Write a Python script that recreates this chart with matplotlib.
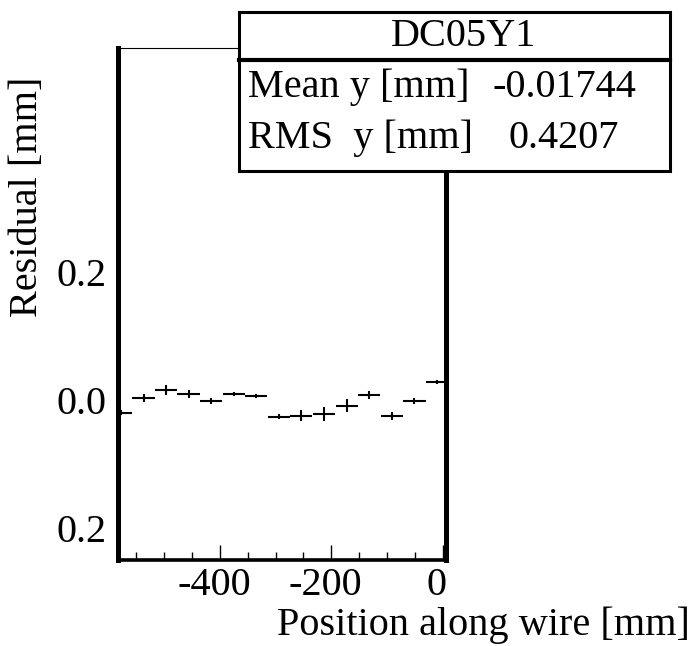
import matplotlib.pyplot as plt
import numpy as np
from matplotlib.patches import Rectangle
from matplotlib.lines import Line2D
from matplotlib.ticker import MultipleLocator
from matplotlib.transforms import ScaledTranslation

plt.rcParams['font.family'] = ['Liberation Serif', 'DejaVu Serif']

# residual profile along the wire
pos      = np.array([-578, -537, -497, -456, -416, -375, -335, -294,
                     -254, -213, -172, -132, -91, -51, -10])
residual = np.array([-0.0198, 0.0027, 0.0156, 0.0094, -0.0016, 0.0094, 0.0063, -0.0261,
                     -0.0245, -0.0223, -0.0089, 0.0078, -0.0245, -0.0016, 0.0286])
res_err  = np.array([0.004, 0.0063, 0.0071, 0.0055, 0.0047, 0.0032, 0.0032, 0.0039,
                     0.0086, 0.011, 0.0105, 0.0063, 0.0063, 0.0047, 0.0032])
bin_half = 20.25

title      = 'DC05Y1'
stat_names = ['Mean y [mm]', 'RMS  y [mm]']
stat_vals  = ['-0.01744', '0.4207']

FS = 29
W, H = 692, 646
fig = plt.figure(figsize=(W / 100, H / 100), dpi=100)
ax = fig.add_axes([118 / W, 1 - 560 / H, (446 - 118) / W, (560 - 48) / H])

ax.errorbar(pos, residual, xerr=bin_half, yerr=res_err, fmt='none',
            ecolor='black', elinewidth=1.5, capsize=0)

ax.set_xlim(-583, 6)
ax.set_ylim(-0.25, 0.55)

# spines, ROOT-ish
ax.spines['left'].set_linewidth(3.6)
ax.spines['right'].set_linewidth(3.6)
ax.spines['bottom'].set_linewidth(2.6)
ax.spines['top'].set_linewidth(0.8)

ax.set_xticks([-400, -200, 0])
ax.xaxis.set_minor_locator(MultipleLocator(50))
ax.tick_params(axis='x', which='major', direction='in', length=11, width=1,
               labelsize=FS, pad=5, top=False)
ax.tick_params(axis='x', which='minor', direction='in', length=6, width=1, top=False)
ax.set_xticklabels(['-400', '-200', '0'])
# labels sit a little left of their ticks in the original
shift = ScaledTranslation(-0.06, 0, fig.dpi_scale_trans)
for lab in ax.get_xticklabels():
    lab.set_transform(lab.get_transform() + shift)

ax.set_yticks([0.2, 0.0, -0.2])
ax.set_yticklabels(['0.2', '0.0', '0.2'])
ax.tick_params(axis='y', which='both', length=0, labelsize=FS, pad=8)

fig.text(690 / W, 1 - 625 / H, 'Position along wire [mm]', ha='right', va='center', fontsize=FS)
fig.text(28 / W, 1 - 77 / H, 'Residual [mm]', rotation=90, ha='center', va='top', fontsize=FS)

# stats box on top of the frame
bx0, bx1, by0, by1, bsep = 239, 670, 12, 171, 60
fig.patches.append(Rectangle((bx0 / W, 1 - by1 / H), (bx1 - bx0) / W, (by1 - by0) / H,
                             transform=fig.transFigure, facecolor='white',
                             edgecolor='black', linewidth=2.2, zorder=2))
fig.lines.append(Line2D([bx0 / W, bx1 / W], [1 - bsep / H, 1 - bsep / H],
                        transform=fig.transFigure, color='black', linewidth=3, zorder=3))
fig.text(464 / W, 1 - 36 / H, title, ha='center', va='center', fontsize=FS, zorder=4)
for name, val, base, vx in zip(stat_names, stat_vals, [97, 148], [493, 508]):
    fig.text(248 / W, 1 - base / H, name, ha='left', va='baseline', fontsize=FS, zorder=4)
    fig.text(vx / W, 1 - base / H, val, ha='left', va='baseline', fontsize=FS, zorder=4)

fig.savefig('out.png', dpi=100)
